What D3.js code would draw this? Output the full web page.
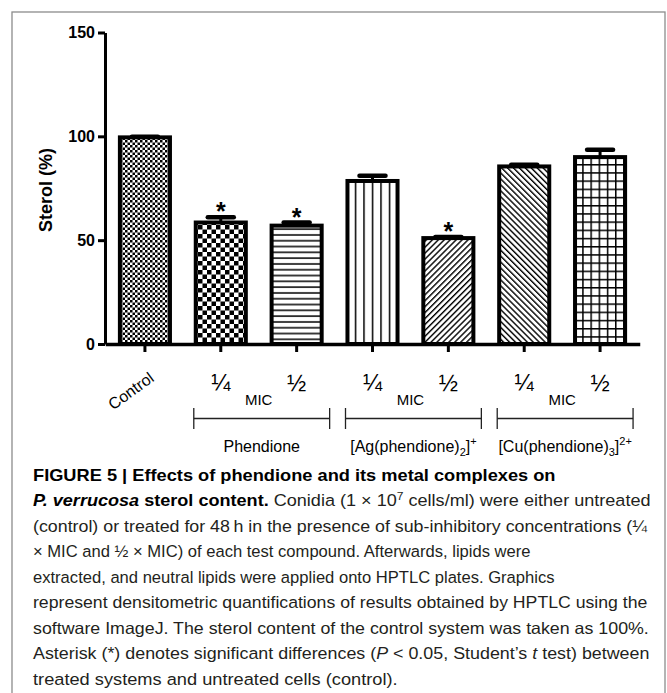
<!DOCTYPE html>
<html><head><meta charset="utf-8">
<script src="https://cdn.jsdelivr.net/npm/d3@7"></script>
<style>body{margin:0;background:#fff} svg{display:block}</style>
</head><body>
<script>
// ---------- data ----------
const categories = ["Control","Phendione ¼ MIC","Phendione ½ MIC","[Ag(phendione)2]+ ¼ MIC","[Ag(phendione)2]+ ½ MIC","[Cu(phendione)3]2+ ¼ MIC","[Cu(phendione)3]2+ ½ MIC"];
const tickLabels = ["Control","¼","½","¼","½","¼","½"];
const sterolValues = [99.5, 58.5, 57, 78.5, 51, 85.5, 90];
const sterolErrors = [0.3, 2.5, 1.5, 2.5, 0.5, 0.8, 3.5];
const significant = [false, true, true, false, true, false, false];
const groupNames = ["Phendione", "[Ag(phendione)2]+", "[Cu(phendione)3]2+"];
const groupFirst = [1, 3, 5];
const groupLast = [2, 4, 6];
const yTicks = [0, 50, 100, 150];
const yLabel = "Sterol (%)";
const concLabel = "MIC";

// ---------- setup ----------
const W = 667, H = 693;
const FONT = "'Liberation Sans', Arial, Helvetica, sans-serif";
const svg = d3.select("body").append("svg").attr("width", W).attr("height", H)
  .style("font-family", FONT);

svg.append("rect").attr("x", 12).attr("y", 12).attr("width", 653).attr("height", 720)
  .attr("fill", "none").attr("stroke", "#8c8c8c").attr("stroke-width", 1.3);

const y = d3.scaleLinear().domain([0, 150]).range([344, 32.5]);
const x = d3.scaleBand().domain(categories).range([107, 638]).paddingInner(0.34).paddingOuter(0.17);
const cx = d => x(d) + x.bandwidth() / 2;

// ---------- patterns ----------
const defs = svg.append("defs");
function pat(id, w, h, build, transform, px) {
  const p = defs.append("pattern").attr("id", id).attr("patternUnits", "userSpaceOnUse")
    .attr("width", w).attr("height", h).attr("x", px || 0).attr("y", 0);
  if (transform) p.attr("patternTransform", transform);
  p.append("rect").attr("width", w).attr("height", h).attr("fill", "#fff");
  build(p);
}
pat("p0", 5, 5, p => {
  p.append("rect").attr("width", 2.5).attr("height", 2.5).attr("fill", "#000");
  p.append("rect").attr("x", 2.5).attr("y", 2.5).attr("width", 2.5).attr("height", 2.5).attr("fill", "#000");
});
pat("p1", 9, 9, p => {
  p.append("rect").attr("width", 4.5).attr("height", 4.5).attr("fill", "#000");
  p.append("rect").attr("x", 4.5).attr("y", 4.5).attr("width", 4.5).attr("height", 4.5).attr("fill", "#000");
}, null, 0);
pat("p2", 10, 5.8, p => {
  p.append("rect").attr("y", 2.2).attr("width", 10).attr("height", 1.5).attr("fill", "#000");
});
pat("p3", 8.5, 10, p => {
  p.append("rect").attr("x", 0).attr("width", 1.5).attr("height", 10).attr("fill", "#000");
}, null, cx(categories[3]) - 0.75);
pat("p4", 4.2, 10, p => {
  p.append("rect").attr("width", 1.4).attr("height", 10).attr("fill", "#000");
}, "rotate(45)");
pat("p5", 4.2, 10, p => {
  p.append("rect").attr("width", 1.4).attr("height", 10).attr("fill", "#000");
}, "rotate(-45)");
pat("p6", 8.2, 8.2, p => {
  p.append("rect").attr("width", 1.5).attr("height", 8.2).attr("fill", "#000");
  p.append("rect").attr("width", 8.2).attr("height", 1.5).attr("fill", "#000");
}, null, 0);

// ---------- axes ----------
const yAxis = svg.append("g").attr("transform", "translate(105,0)")
  .call(d3.axisLeft(y).tickValues(yTicks).tickSize(7).tickSizeOuter(0).tickPadding(3));
yAxis.select(".domain").attr("stroke-width", 3);
yAxis.selectAll(".tick line").attr("stroke-width", 3);
yAxis.selectAll(".tick text").style("font-family", FONT).style("font-size", "16px")
  .style("font-weight", "bold").attr("fill", "#000");

// bars
svg.append("g").selectAll("rect").data(categories).join("rect")
  .attr("x", d => x(d)).attr("width", x.bandwidth())
  .attr("y", (d, i) => y(sterolValues[i]))
  .attr("height", (d, i) => y(0) - y(sterolValues[i]))
  .attr("fill", (d, i) => `url(#p${i})`)
  .attr("stroke", "#000").attr("stroke-width", 4);

const xAxis = svg.append("g").attr("transform", `translate(0,${y(0)})`)
  .call(d3.axisBottom(x).tickSize(8).tickSizeOuter(0).tickFormat(""));
xAxis.select(".domain").attr("stroke-width", 3.5).attr("stroke-linecap", "square");
xAxis.selectAll(".tick line").attr("stroke-width", 3);

// error bars
const eb = svg.append("g");
categories.forEach((c, i) => {
  const top = y(sterolValues[i] + sterolErrors[i]);
  eb.append("line").attr("x1", cx(c)).attr("x2", cx(c)).attr("y1", y(sterolValues[i])).attr("y2", top)
    .attr("stroke", "#000").attr("stroke-width", 3);
  eb.append("line").attr("x1", cx(c) - 13).attr("x2", cx(c) + 13).attr("y1", top).attr("y2", top)
    .attr("stroke", "#000").attr("stroke-width", 4.5).attr("stroke-linecap", "round");
  if (significant[i]) {
    eb.append("text").attr("x", cx(c)).attr("y", top - 11 + 14)
      .attr("text-anchor", "middle").style("font-size", "25px").style("font-weight", "bold").text("*");
  }
});

// y label
svg.append("text").attr("transform", "translate(46,190) rotate(-90)")
  .attr("text-anchor", "middle").attr("dominant-baseline", "central")
  .style("font-size", "18px").style("font-weight", "bold").text(yLabel);

// x labels
categories.forEach((c, i) => {
  if (i === 0) {
    svg.append("text").attr("transform", `translate(${cx(c) - 14},391) rotate(-36)`)
      .attr("text-anchor", "middle").attr("dominant-baseline", "central")
      .style("font-size", "16px").text(tickLabels[i]);
  } else {
    svg.append("text").attr("x", cx(c)).attr("y", 391).attr("text-anchor", "middle")
      .style("font-size", "23px").text(tickLabels[i]);
  }
});

// group brackets and labels
function labelParts(name) {
  const m = name.match(/^(\[\w+\(phendione\))(\d)(\])(\d?\+)$/);
  if (!m) return [[name, ""]];
  return [[m[1], ""], [m[2], "sub"], [m[3], ""], [m[4], "sup"]];
}
groupNames.forEach((g, k) => {
  const a = cx(categories[groupFirst[k]]), b = cx(categories[groupLast[k]]);
  const mid = (a + b) / 2;
  svg.append("text").attr("x", mid).attr("y", 405).attr("text-anchor", "middle")
    .style("font-size", "15px").text(concLabel);
  const x1 = a - 27, x2 = b + 33;
  const br = svg.append("g").attr("stroke", "#222").attr("stroke-width", 1.3);
  br.append("line").attr("x1", x1).attr("x2", x2).attr("y1", 418.5).attr("y2", 418.5);
  br.append("line").attr("x1", x1).attr("x2", x1).attr("y1", 408).attr("y2", 429);
  br.append("line").attr("x1", x2).attr("x2", x2).attr("y1", 408).attr("y2", 429);
  const t = svg.append("text").attr("x", (x1 + x2) / 2).attr("y", 452).attr("text-anchor", "middle")
    .style("font-size", "16px");
  let shift = 0;
  labelParts(g).forEach(([s, kind]) => {
    const target = kind === "sub" ? 4 : kind === "sup" ? -7 : 0;
    t.append("tspan").attr("dy", target - shift).style("font-size", kind ? "11px" : null).text(s);
    shift = target;
  });
});

// ---------- caption ----------
const captionLines = [
  [{t: "FIGURE 5 | Effects of phendione and its metal complexes on", b: 1}],
  [{t: "P. verrucosa", b: 1, i: 1}, {t: " sterol content.", b: 1}, {t: " Conidia (1 \u00d7 10"}, {t: "7", sup: 1}, {t: " cells/ml) were either untreated"}],
  [{t: "(control) or treated for 48\u2009h in the presence of sub-inhibitory concentrations (\u00bc"}],
  [{t: "\u00d7 MIC and \u00bd \u00d7 MIC) of each test compound. Afterwards, lipids were"}],
  [{t: "extracted, and neutral lipids were applied onto HPTLC plates. Graphics"}],
  [{t: "represent densitometric quantifications of results obtained by HPTLC using the"}],
  [{t: "software ImageJ. The sterol content of the control system was taken as 100%."}],
  [{t: "Asterisk (*) denotes significant differences ("}, {t: "P", i: 1}, {t: " < 0.05, Student\u2019s "}, {t: "t", i: 1}, {t: " test) between"}],
  [{t: "treated systems and untreated cells (control)."}]
];
const lineRight = [556, 651, 648, 531, 555, 648, 649, 650, 398];
const X0 = 33;
captionLines.forEach((segs, li) => {
  const t = svg.append("text").attr("x", X0).attr("y", 481 + li * 25.5)
    .style("font-size", "16.5px").attr("fill", "#231f20");
  segs.forEach(s => {
    const ts = t.append("tspan").text(s.t);
    if (s.b) ts.style("font-weight", "bold").attr("fill", "#000");
    if (s.i) ts.style("font-style", "italic");
    if (s.sup) ts.attr("dy", -6).style("font-size", "11px");
    else if (t.attr("data-sup")) ts.attr("dy", 6);
    t.attr("data-sup", s.sup ? "1" : null);
  });
  const w = t.node().getBBox().width;
  let sx = (lineRight[li] - X0) / w;
  sx = Math.max(0.8, Math.min(1.25, sx));
  t.attr("transform", `translate(${X0},0) scale(${sx},1) translate(${-X0},0)`);
});
</script>
</body></html>
